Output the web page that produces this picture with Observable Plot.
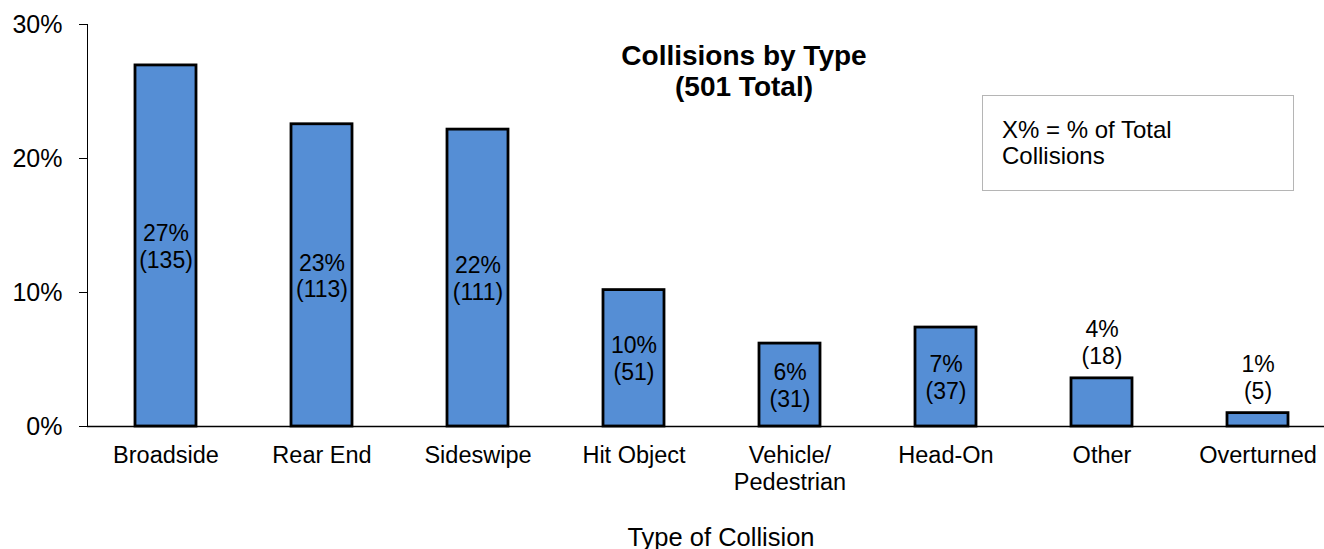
<!DOCTYPE html>
<html>
<head>
<meta charset="utf-8">
<script src="https://cdn.jsdelivr.net/npm/d3@7"></script>
<script src="https://cdn.jsdelivr.net/npm/@observablehq/plot@0.6"></script>
<style>
  body { margin: 0; background: #fff; }
  #chart { position: relative; width: 1324px; height: 549px; font-family: "Liberation Sans", Arial, sans-serif; }
  #note {
    position: absolute; left: 982px; top: 95px; width: 312px; height: 96px; z-index: 1;
    box-sizing: border-box; border: 1px solid #b5b5b5; background: #fff;
    padding: 21px 0 0 19px; font-size: 24px; line-height: 25.6px; color: #000;
  }
</style>
</head>
<body>
<div id="chart"><div id="note">X% = % of Total<br>Collisions</div></div>
<script>
// Collision types and their counts (501 collisions in total)
const categories = ["Broadside", "Rear End", "Sideswipe", "Hit Object", "Vehicle/Pedestrian", "Head-On", "Other", "Overturned"];
const tickLabels = ["Broadside", "Rear End", "Sideswipe", "Hit Object", "Vehicle/\nPedestrian", "Head-On", "Other", "Overturned"];
const counts = [135, 113, 111, 51, 31, 37, 18, 5];
const total = 501;
const yTicks = [0, 0.1, 0.2, 0.3];

const rows = categories.map((c, i) => ({
  category: c,
  count: counts[i],
  share: counts[i] / total,
  pct: Math.round(counts[i] / total * 100)
}));
// short bars carry their label above the bar, the others inside it
const inside = rows.filter(d => d.share >= 0.05);
const above = rows.filter(d => d.share < 0.05);
const label = d => `${d.pct}%\n(${d.count})`;

const chart = Plot.plot({
  width: 1324,
  height: 549,
  marginTop: 24,
  marginBottom: 123,
  marginLeft: 87,
  marginRight: 0,
  style: { fontFamily: "'Liberation Sans', Arial, sans-serif", color: "#000", background: "#fff", overflow: "visible" },
  x: { domain: categories, range: [87, 1336], paddingInner: 0.61, paddingOuter: 0.305, align: 0.5 },
  y: { domain: [0, 0.3] },
  marks: [
    Plot.barY(rows, { x: "category", y: "share", fill: "#558ed5", stroke: "#000", strokeWidth: 2.8 }),
    Plot.ruleY([0], { stroke: "#000", strokeWidth: 1.3 }),
    Plot.frame({ anchor: "left", stroke: "#000" }),
    Plot.axisY({ ticks: yTicks, tickFormat: d3.format(".0%"), tickSize: 8, tickPadding: 17, fontSize: 25, label: null }),
    Plot.axisX({ tickSize: 0, tickPadding: 17, fontSize: 23.5, lineHeight: 1.16, label: null,
                 tickFormat: d => tickLabels[categories.indexOf(d)] }),
    Plot.text(inside, { x: "category", y: d => d.share / 2, text: label, fontSize: 23, lineHeight: 1.17, lineAnchor: "middle" }),
    Plot.text(above, { x: "category", y: "share", text: label, fontSize: 23, lineHeight: 1.17, lineAnchor: "bottom", dy: -14.5 }),
    Plot.text(["Collisions by Type\n(501 Total)"], { text: d => d, frameAnchor: "top", lineAnchor: "top", dx: 38, dy: 18,
                 fontSize: 28, fontWeight: "bold", lineHeight: 1.12 }),
    Plot.text(["Type of Collision"], { text: d => d, frameAnchor: "bottom", lineAnchor: "top", dx: 15, dy: 101, fontSize: 25.5 })
  ]
});

document.getElementById("chart").prepend(chart);
</script>
</body>
</html>
